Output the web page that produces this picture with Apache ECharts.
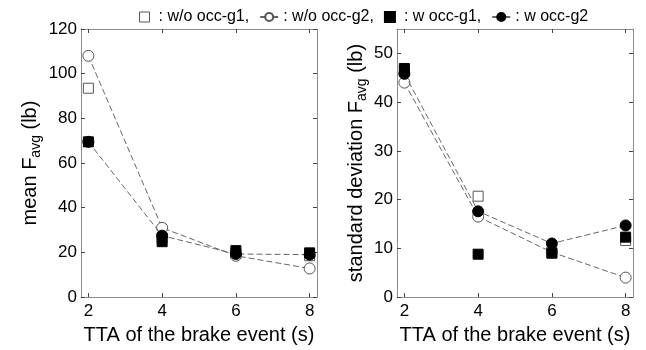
<!DOCTYPE html>
<html>
<head>
<meta charset="utf-8">
<script src="https://cdn.jsdelivr.net/npm/echarts@6/dist/echarts.min.js"></script>
<style>
  html, body { margin: 0; padding: 0; background: #fff; }
  #chart { width: 646px; height: 350px; }
</style>
</head>
<body>
<div id="chart"></div>
<script>
// Time-to-arrival of the brake event (s)
const tta = [2, 4, 6, 8];
const xTicks = [2, 4, 6, 8];
const meanTicks = [0, 20, 40, 60, 80, 100, 120];
const sdTicks = [0, 10, 20, 30, 40, 50];

// Mean brake force F_avg (lb)
const meanWoG1 = [93.5, 26.5, 19.5, 18.5];
const meanWoG2 = [108, 31, 18.5, 12.8];
const meanWG1 = [69.5, 24.8, 20.8, 19.8];
const meanWG2 = [69.5, 27.5, 19.3, 19];

// Standard deviation of F_avg (lb)
const sdWoG1 = [46.5, 20.7, 9.2, 11.6];
const sdWoG2 = [44, 16.5, 9.2, 4];
const sdWG1 = [46.9, 8.8, 9, 12.3];
const sdWG2 = [45.8, 17.6, 11, 14.7];

const groupNames = ['w/o occ-g1', 'w/o occ-g2', 'w occ-g1', 'w occ-g2'];

const FONT = 'Liberation Sans, Arial, Helvetica, sans-serif';
const BOX = '#8c8c8c';
const LINE = '#666';

function pairs(ys) { return tta.map((x, i) => [x, ys[i]]); }

function xAxes(grid) {
  return [
    {
      gridIndex: grid, type: 'value', min: 1.8, max: 8.2, position: 'bottom',
      name: 'TTA of the brake event (s)', nameLocation: 'middle', nameGap: 21,
      nameTextStyle: { fontFamily: FONT, fontSize: 20, color: '#000' },
      axisLine: { show: true, onZero: false, lineStyle: { color: BOX, width: 1 } },
      axisTick: { show: true, inside: true, length: 4, customValues: xTicks, lineStyle: { color: '#444' } },
      axisLabel: { customValues: xTicks, fontFamily: FONT, fontSize: 17, color: '#000', margin: 6 },
      splitLine: { show: false }
    },
    {
      gridIndex: grid, type: 'value', min: 1.8, max: 8.2, position: 'top',
      axisLine: { show: true, onZero: false, lineStyle: { color: BOX, width: 1 } },
      axisTick: { show: true, inside: true, length: 4, customValues: xTicks, lineStyle: { color: '#444' } },
      axisLabel: { show: false },
      splitLine: { show: false }
    }
  ];
}

function yAxes(grid, max, ticks, name, gap) {
  return [
    {
      gridIndex: grid, type: 'value', min: 0, max: max, position: 'left',
      name: name, nameLocation: 'middle', nameGap: gap, nameRotate: 90,
      nameTextStyle: {
        fontFamily: FONT, fontSize: 20, color: '#000',
        rich: {
          n: { fontFamily: FONT, fontSize: 20, color: '#000' },
          s: { fontFamily: FONT, fontSize: 14, color: '#000', padding: [12, 0, 0, 0] }
        }
      },
      axisLine: { show: true, onZero: false, lineStyle: { color: BOX, width: 1 } },
      axisTick: { show: true, inside: true, length: 4, customValues: ticks, lineStyle: { color: '#444' } },
      axisLabel: { customValues: ticks, fontFamily: FONT, fontSize: 17, color: '#000', margin: 4 },
      splitLine: { show: false }
    },
    {
      gridIndex: grid, type: 'value', min: 0, max: max, position: 'right',
      axisLine: { show: true, onZero: false, lineStyle: { color: BOX, width: 1 } },
      axisTick: { show: true, inside: true, length: 4, customValues: ticks, lineStyle: { color: '#444' } },
      axisLabel: { show: false },
      splitLine: { show: false }
    }
  ];
}

function seriesFor(grid, woG1, woG2, wG1, wG2) {
  const xi = grid * 2, yi = grid * 2;
  return [
    {
      name: groupNames[0], type: 'scatter', xAxisIndex: xi, yAxisIndex: yi,
      symbol: 'rect', symbolSize: 10, symbolKeepAspect: true, z: 2,
      itemStyle: { color: '#fff', borderColor: '#555', borderWidth: 1, opacity: 1 },
      data: pairs(woG1)
    },
    {
      name: groupNames[1], type: 'line', xAxisIndex: xi, yAxisIndex: yi,
      symbol: 'circle', symbolSize: 11, showAllSymbol: true, z: 3,
      lineStyle: { color: LINE, width: 1, type: [6, 3] },
      itemStyle: { color: '#fff', borderColor: '#555', borderWidth: 1 },
      data: pairs(woG2)
    },
    {
      name: groupNames[2], type: 'scatter', xAxisIndex: xi, yAxisIndex: yi,
      symbol: 'rect', symbolSize: 10, symbolKeepAspect: true, z: 4,
      itemStyle: { color: '#000', borderColor: '#000', borderWidth: 1, opacity: 1 },
      data: pairs(wG1)
    },
    {
      name: groupNames[3], type: 'line', xAxisIndex: xi, yAxisIndex: yi,
      symbol: 'circle', symbolSize: 11, showAllSymbol: true, z: 5,
      lineStyle: { color: LINE, width: 1, type: [6, 3] },
      itemStyle: { color: '#000', borderColor: '#000', borderWidth: 1 },
      data: pairs(wG2)
    }
  ];
}

const chart = echarts.init(document.getElementById('chart'), null, { renderer: 'canvas' });

chart.setOption({
  animation: false,
  backgroundColor: '#fff',
  legend: {
    left: 134, top: 4,
    selectedMode: false,
    itemGap: 10, itemWidth: 18, itemHeight: 10,
    textStyle: { fontFamily: FONT, fontSize: 16, color: '#000' },
    formatter: name => ': ' + name + (name === groupNames[3] ? '' : ','),
    data: [
      { name: groupNames[0], icon: 'path://M0,0H10V10H0Z', itemStyle: { color: '#fff', borderColor: '#555', borderWidth: 1, opacity: 1 } },
      { name: groupNames[1], lineStyle: { type: 'solid', color: LINE } },
      { name: groupNames[2], icon: 'path://M0,0H10V10H0Z', itemStyle: { color: '#000', borderColor: '#000', opacity: 1 } },
      { name: groupNames[3], lineStyle: { type: 'solid', color: LINE } }
    ]
  },
  grid: [
    { left: 81, top: 29, width: 236, height: 282 },
    { left: 397, top: 29, width: 236, height: 282 }
  ],
  xAxis: [...xAxes(0), ...xAxes(1)],
  yAxis: [
    ...yAxes(0, 120, meanTicks, '{n|mean F}{s|avg}{n| (lb)}', 38),
    ...yAxes(1, 55, sdTicks, '{n|standard deviation F}{s|avg}{n| (lb)}', 28)
  ],
  series: [
    ...seriesFor(0, meanWoG1, meanWoG2, meanWG1, meanWG2),
    ...seriesFor(1, sdWoG1, sdWoG2, sdWG1, sdWG2)
  ]
});
</script>
</body>
</html>
